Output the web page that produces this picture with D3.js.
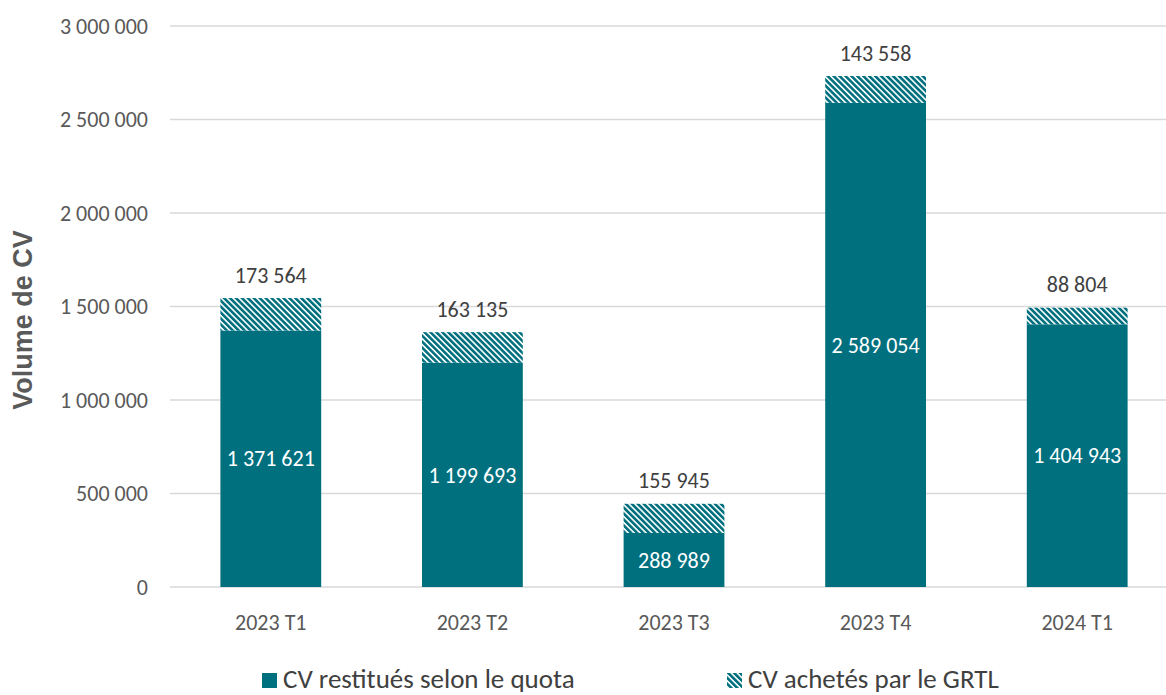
<!DOCTYPE html>
<html>
<head>
<meta charset="utf-8">
<script src="https://cdn.jsdelivr.net/npm/d3@7"></script>
<style>
  body { margin: 0; background: #fff; }
  text { font-family: Carlito, "Open Sans", "Noto Sans", sans-serif; }
</style>
</head>
<body>
<svg id="chart" width="1166" height="695"></svg>
<script>
const categories = ['2023 T1', '2023 T2', '2023 T3', '2023 T4', '2024 T1'];
const quotaValues = [1371621, 1199693, 288989, 2589054, 1404943];
const boughtValues = [173564, 163135, 155945, 143558, 88804];
const yTicks = [0, 500000, 1000000, 1500000, 2000000, 2500000, 3000000];
const seriesNames = ['CV restitués selon le quota', 'CV achetés par le GRTL'];

const teal = '#00707f';
const frLocale = d3.formatLocale({ decimal: ',', thousands: '\u00a0', grouping: [3], currency: ['', ' €'] });
const fmt = frLocale.format(',d');

const svg = d3.select('#chart');
const margin = { left: 170, right: -12, top: 26, bottom: 108 };
const width = 1166 - margin.left - margin.right;
const height = 695 - margin.top - margin.bottom;

// hatch pattern
const defs = svg.append('defs');
const pat = defs.append('pattern')
	.attr('id', 'hatch')
	.attr('patternUnits', 'userSpaceOnUse')
	.attr('width', 4.2).attr('height', 4.2)
	.attr('patternTransform', 'rotate(-45)');
pat.append('rect').attr('width', 4.2).attr('height', 4.2).attr('fill', '#fff');
pat.append('rect').attr('x', 0).attr('width', 2.6).attr('height', 4.2).attr('fill', teal);

const g = svg.append('g').attr('transform', `translate(${margin.left},${margin.top})`);

const x = d3.scaleBand().domain(categories).range([0, width]).paddingInner(0.5).paddingOuter(0.25);
const y = d3.scaleLinear().domain([0, 3000000]).range([height, 0]);

// gridlines
g.selectAll('.grid').data(yTicks).enter().append('line')
	.attr('x1', 0).attr('x2', width)
	.attr('y1', d => y(d)).attr('y2', d => y(d))
	.attr('stroke', '#d9d9d9').attr('stroke-width', 1.3);

// y axis labels
g.selectAll('.ytick').data(yTicks).enter().append('text')
	.attr('x', -22).attr('y', d => y(d))
	.attr('dy', '0.35em')
	.attr('text-anchor', 'end')
	.attr('fill', '#595959')
	.style('font-size', '22px')
	.text(d => fmt(d));

// x axis labels
g.selectAll('.xtick').data(categories).enter().append('text')
	.attr('x', d => x(d) + x.bandwidth() / 2)
	.attr('y', height + 35)
	.attr('dy', '0.35em')
	.attr('text-anchor', 'middle')
	.attr('fill', '#595959')
	.style('font-size', '22px')
	.text(d => d);

// bars
const rows = categories.map((c, i) => ({ cat: c, quota: quotaValues[i], bought: boughtValues[i] }));

g.selectAll('.quota').data(rows).enter().append('rect')
	.attr('x', d => x(d.cat)).attr('width', x.bandwidth())
	.attr('y', d => y(d.quota)).attr('height', d => height - y(d.quota))
	.attr('fill', teal);

g.selectAll('.bought').data(rows).enter().append('rect')
	.attr('x', d => x(d.cat)).attr('width', x.bandwidth())
	.attr('y', d => y(d.quota + d.bought)).attr('height', d => y(d.quota) - y(d.quota + d.bought))
	.attr('fill', 'url(#hatch)');

// labels inside quota
g.selectAll('.qlabel').data(rows).enter().append('text')
	.attr('x', d => x(d.cat) + x.bandwidth() / 2)
	.attr('y', d => (y(0) + y(d.quota)) / 2)
	.attr('dy', '0.35em')
	.attr('text-anchor', 'middle')
	.attr('fill', '#fff')
	.style('font-size', '22px')
	.text(d => fmt(d.quota));

// labels above bought
g.selectAll('.blabel').data(rows).enter().append('text')
	.attr('x', d => x(d.cat) + x.bandwidth() / 2)
	.attr('y', d => y(d.quota + d.bought) - 23)
	.attr('dy', '0.35em')
	.attr('text-anchor', 'middle')
	.attr('fill', '#404040')
	.style('font-size', '22px')
	.text(d => fmt(d.bought));

// y axis title
svg.append('text')
	.attr('transform', `translate(32,320) rotate(-90)`)
	.attr('text-anchor', 'middle')
	.attr('fill', '#595959')
	.style('font-family', '"Liberation Sans", Arial, sans-serif')
	.style('font-size', '27px')
	.style('font-weight', 'bold')
	.text('Volume de CV');

// legend
const legend = svg.append('g');
const legendX = [262, 727];
seriesNames.forEach((name, i) => {
	legend.append('rect')
		.attr('x', legendX[i]).attr('y', 673)
		.attr('width', 15).attr('height', 15)
		.attr('fill', i === 0 ? teal : 'url(#hatch)');
	legend.append('text')
		.attr('x', legendX[i] + 21).attr('y', 679)
		.attr('dy', '0.35em')
		.attr('fill', '#404040')
		.style('font-size', '27px')
		.text(name);
});
</script>
</body>
</html>
